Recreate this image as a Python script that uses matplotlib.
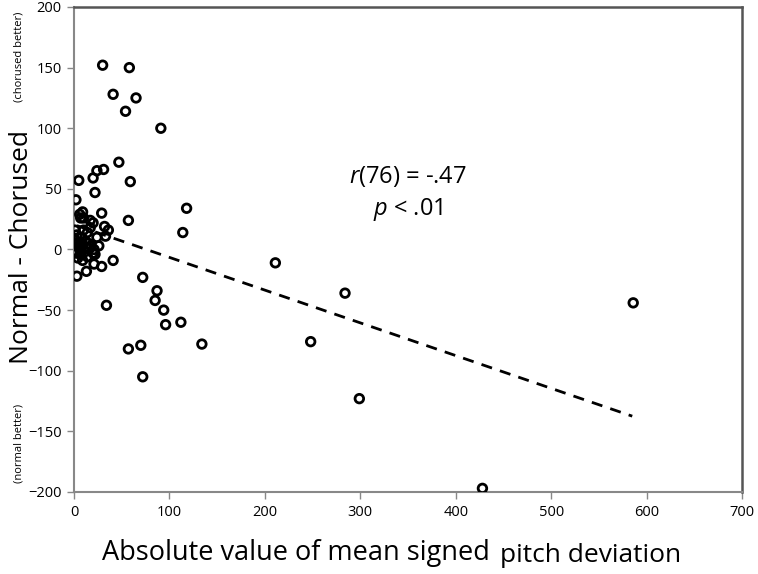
import numpy as np
import matplotlib.pyplot as plt

plt.rcParams['font.family'] = ['Open Sans', 'DejaVu Sans']
plt.rcParams['mathtext.fontset'] = 'custom'
plt.rcParams['mathtext.it'] = 'Open Sans:italic'
plt.rcParams['mathtext.rm'] = 'Open Sans'

# absolute value of mean signed pitch deviation
dev = [30, 58, 41, 65, 54, 91, 47, 5, 20, 24, 31, 59, 22, 2, 29, 6, 9, 7, 17, 20,
       57, 118, 114, 32, 36, 33, 24, 1, 10, 14, 0.5, 4, 7, 2, 9, 13, 16, 21, 6, 11,
       20, 22, 4, 9, 21, 29, 41, 13, 3, 72, 87, 85, 34, 94, 96, 112, 57, 70, 134, 72,
       211, 284, 248, 299, 428, 586, 3, 5, 8, 12, 15, 18, 2, 7, 14, 17, 10, 26]
# normal - chorused
diff = [152, 150, 128, 125, 114, 100, 72, 57, 59, 65, 66, 56, 47, 41, 30, 29, 31, 26, 24, 22,
        24, 34, 14, 19, 16, 11, 10, 16, 16, 14, 8, 6, 6, 4, 4, 2, 1, 0, 0, -2,
        -3, -4, -7, -9, -12, -14, -9, -18, -22, -23, -34, -42, -46, -50, -62, -60, -82, -79, -78, -105,
        -11, -36, -76, -123, -197, -44, 12, 2, 10, 7, 5, 3, -3, -4, -6, 18, 26, 3]

# trend line
slope = -0.27
intercept = 20.5
line_x = [3, 585]

fig = plt.figure(figsize=(7.58, 5.74), dpi=100)
ax = fig.add_axes([74/758, 1-492/574, (742-74)/758, (492-7)/574])

ax.scatter(dev, diff, s=38, facecolors='none', edgecolors='black', linewidths=2.0, zorder=3)
lx = np.array(line_x)
ax.plot(lx, intercept + slope*lx, color='black', linestyle=(0, (4, 3)), linewidth=2.0)

ax.set_xlim(0, 700)
ax.set_ylim(-200, 200)
ax.set_xticks(np.arange(0, 701, 100))
ax.set_yticks(np.arange(-200, 201, 50))
ax.tick_params(direction='out', length=5, width=1, color='#888888', labelsize=10.5, pad=4)
for s in ['left', 'bottom']:
    ax.spines[s].set_color('#888888')
    ax.spines[s].set_linewidth(1.5)
for s in ['top', 'right']:
    ax.spines[s].set_color('#555555')
    ax.spines[s].set_linewidth(1.8)

ax.text(350, 60, r'$\mathit{r}$(76) = -.47', ha='center', va='center', fontsize=17)
ax.text(350, 33, r'$\mathit{p}$ < .01', ha='center', va='center', fontsize=17)

fig.text(22/758, 1-247/574, 'Normal - Chorused', rotation=90, ha='center', va='center', fontsize=19)
fig.text(19/758, 1-57/574, '(chorused better)', rotation=90, ha='center', va='center', fontsize=8)
fig.text(19/758, 1-443/574, '(normal better)', rotation=90, ha='center', va='center', fontsize=8)
fig.text(490/758, 1-553/574, 'Absolute value of mean signed', ha='right', va='center', fontsize=19.5)
fig.text(500/758, 1-555/574, 'pitch deviation', ha='left', va='center', fontsize=19)

plt.savefig('out.png', dpi=100)
